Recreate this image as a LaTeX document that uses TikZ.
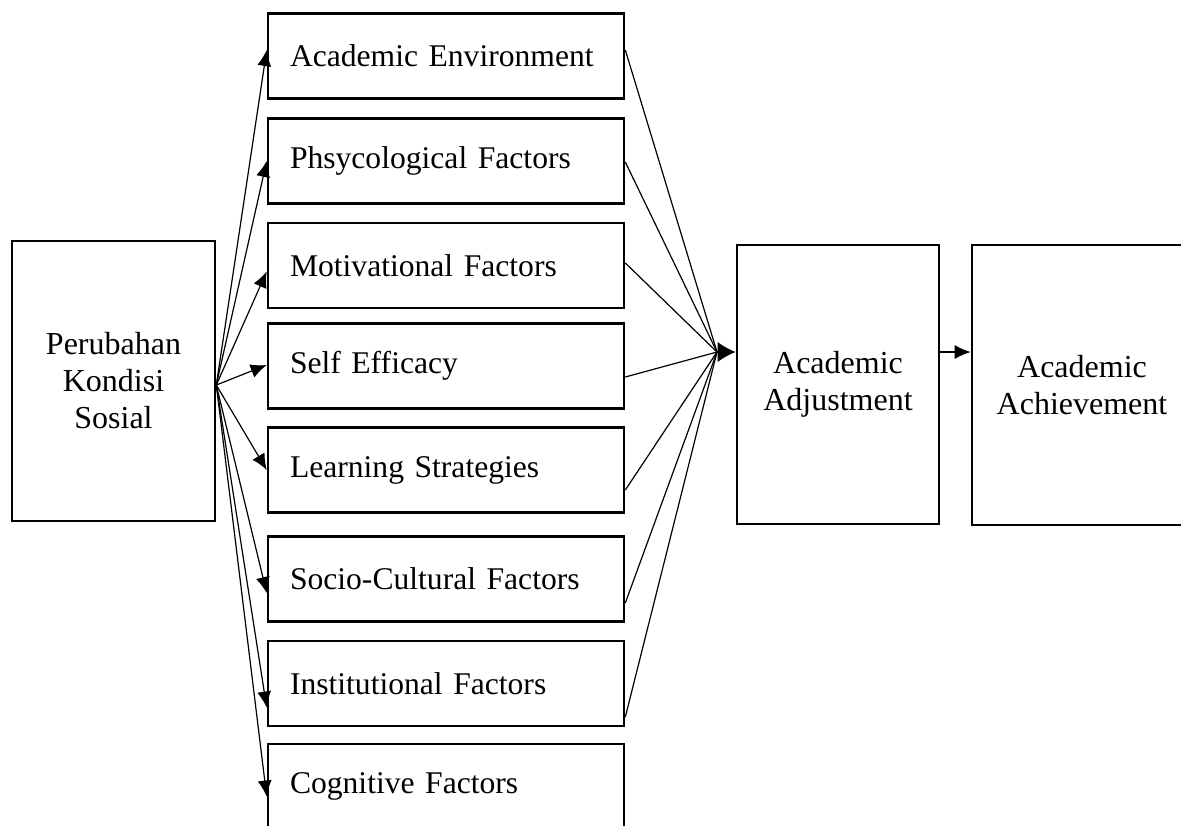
\documentclass[tikz,border=0pt]{standalone}
\usepackage{fontspec}
\setmainfont{Liberation Serif}
\usetikzlibrary{arrows.meta, calc}

\tikzset{
	box/.style = {draw, line width = 1.3pt, align = center, font = \fontsize{16}{18.5}\selectfont},
	factor/.style = {draw, line width = 1.3pt, minimum height = 42.5pt, text width = 156pt,
		inner xsep = 11pt, align = left, font = \fontsize{15.8}{18.5}\selectfont},
	link/.style = {line width = 0.6pt},
	arr/.style = {-{Latex[length = 8pt, width = 7pt]}},
	bigarr/.style = {-{Latex[length = 9pt, width = 10pt]}}
}

\begin{document}
\begin{tikzpicture}[x = 0.5pt, y = -0.5pt]

	% Definitions

	\def\FX{446}	% Centre of the factor boxes

	\clip (0, 0) rectangle (1181, 825);

	% Outer boxes

	\node [box, minimum width = 101.5pt, minimum height = 140pt] (kondisi) at (113.5, 381) {Perubahan\\Kondisi\\Sosial};
	\node [box, minimum width = 101pt, minimum height = 139.5pt] (adjust) at (838, 384.5) {Academic\\Adjustment};
	\node [box, minimum width = 110pt, minimum height = 140pt] (achieve) at (1082, 385) {Academic\\Achievement};

	% Factor boxes

	\node [factor] (env) at (\FX, 56) {Academic Environment};
	\node [factor] (psy) at (\FX, 161) {Phsycological Factors};
	\node [factor] (mot) at (\FX, 265.5) {Motivational Factors};
	\node [factor] (self) at (\FX, 366) {Self Efficacy};
	\node [factor] (learn) at (\FX, 470) {Learning Strategies};
	\node [factor] (socio) at (\FX, 579) {Socio-Cultural Factors};
	\node [factor] (inst) at (\FX, 683.5) {Institutional Factors};
	\node [factor] (cog) at (\FX, 786.5) {Cognitive Factors};

	% Fan out from the left box

	\coordinate (src) at ($(kondisi.east) + (0, 4)$);
	\foreach \f/\d in {env/-6, psy/0, mot/6, self/-1, learn/0, socio/14, inst/24, cog/10}
		\draw [link, arr] (src) -- ($(\f.west) + (0, \d)$);

	% Fan in to the adjustment box

	\coordinate (hub) at (717, 352);
	\foreach \f/\d in {env/-6, psy/1, mot/-2.5, self/11, learn/20, socio/24, inst/33.5}
		\draw [link] ($(\f.east) + (0, \d)$) -- (hub);
	\draw [link, bigarr] (hub) -- (hub -| adjust.west);

	\draw [link, arr] (adjust.east |- hub) -- (achieve.west |- hub);

\end{tikzpicture}
\end{document}
